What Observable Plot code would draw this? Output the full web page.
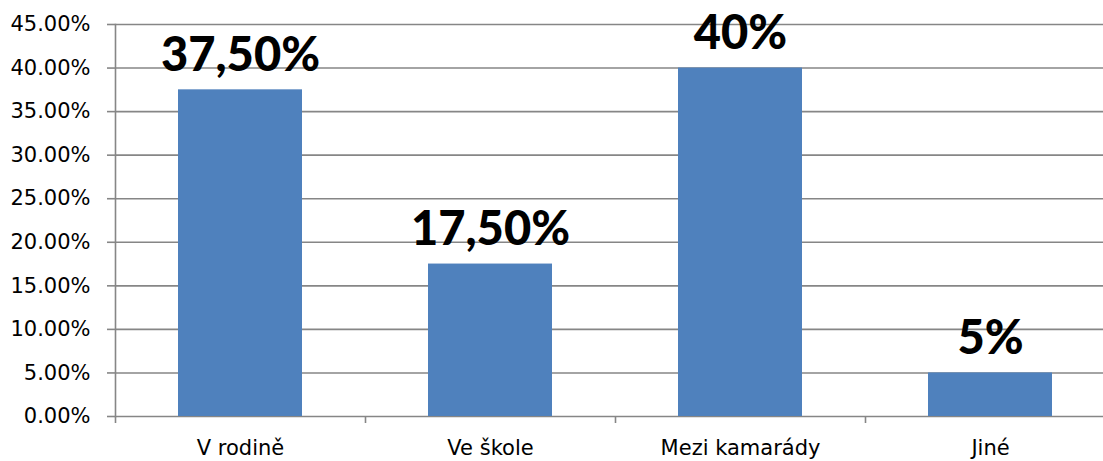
<!DOCTYPE html>
<html>
<head>
<meta charset="utf-8">
<script src="https://cdn.jsdelivr.net/npm/d3@7"></script>
<script src="https://cdn.jsdelivr.net/npm/@observablehq/plot@0.6"></script>
<style>
  html, body { margin: 0; padding: 0; background: #fff; }
</style>
</head>
<body>
<div id="chart"></div>
<script>
const categories = ["V rodině", "Ve škole", "Mezi kamarády", "Jiné"];
const values = [0.375, 0.175, 0.40, 0.05];
const valueLabels = ["37,50%", "17,50%", "40%", "5%"];
const yTicks = [0, 0.05, 0.10, 0.15, 0.20, 0.25, 0.30, 0.35, 0.40, 0.45];

const data = categories.map((c, i) => ({cat: c, value: values[i], label: valueLabels[i]}));
const grid = "#868686";

const chart = Plot.plot({
  width: 1103,
  height: 461,
  marginLeft: 115,
  marginRight: -12,
  marginTop: 24,
  marginBottom: 45,
  style: {fontFamily: "DejaVu Sans", fontSize: "21px", color: "black", background: "white"},
  x: {domain: categories, paddingInner: 0.504, paddingOuter: 0.252, label: null},
  y: {domain: [0, 0.45], label: null},
  marks: [
    Plot.gridY(yTicks, {stroke: grid, strokeOpacity: 1, strokeWidth: 1.6}),
    Plot.barY(data, {x: "cat", y: "value", fill: "#4F81BD"}),
    Plot.frame({anchor: "left", stroke: grid, strokeWidth: 1.6}),
    Plot.axisY(yTicks, {text: null, tickSize: 8, stroke: grid, strokeWidth: 1.6, label: null}),
    Plot.axisY(yTicks, {tickSize: 0, tickPadding: 25, fill: "black", fontSize: 21, tickFormat: d => (d * 100).toFixed(2) + "%", label: null}),
    Plot.axisX({text: null, tickSize: 7, dx: -125, stroke: grid, strokeWidth: 1.6, label: null}),
    Plot.axisX({tickSize: 0, tickPadding: 24, fill: "black", fontSize: 21, label: null}),
    Plot.text(data, {x: "cat", y: "value", text: "label", lineAnchor: "bottom", dy: -19,
      fontSize: 47, fontWeight: 900, fontFamily: "Lato", fill: "black"})
  ]
});
document.getElementById("chart").appendChild(chart);
</script>
</body>
</html>
